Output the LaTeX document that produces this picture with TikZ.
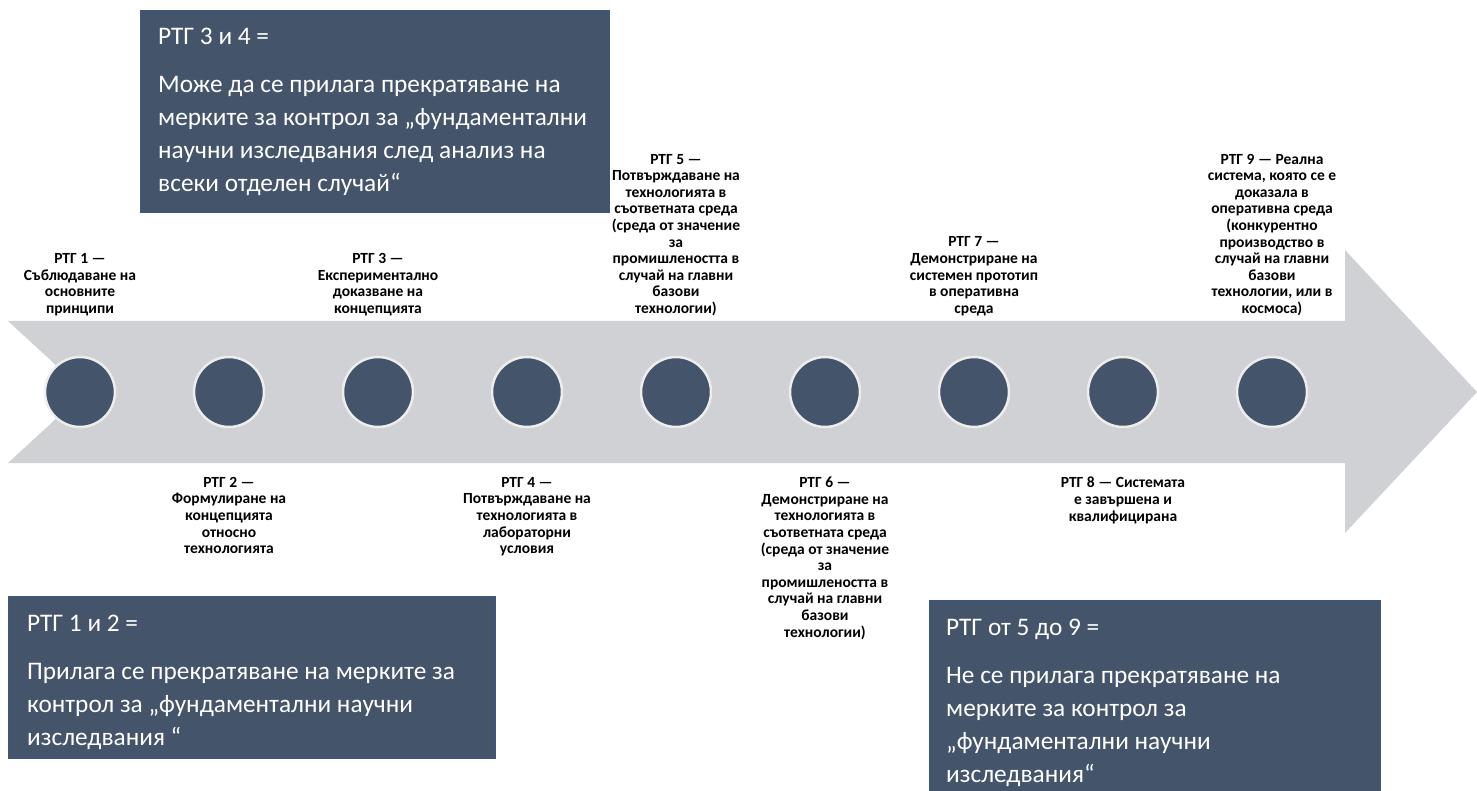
\documentclass[tikz,border=0pt]{standalone}
\usepackage{fontspec}
\setmainfont{Carlito}
\definecolor{slate}{HTML}{44546A}
\definecolor{slateedge}{HTML}{3E5781}
\definecolor{arrowgray}{HTML}{D0D1D4}
\tikzset{
  darkbox/.style={fill=slate, draw=slateedge, line width=0.8pt},
  boxtext/.style={text=white, align=left, inner sep=0, font=\fontsize{25.3}{33}\selectfont},
  rtglabel/.style={align=center, inner sep=0, font=\fontsize{15.5}{16.6}\selectfont\bfseries},
  dot/.style={circle, fill=slate, draw=white!93!black, line width=2.5pt, minimum size=70pt, inner sep=0}
}
\begin{document}
\begin{tikzpicture}[x=1pt, y=-1pt]
  \useasboundingbox (0,0) rectangle (1477,791);
  % big arrow
  \fill[arrowgray] (8,321) -- (1345,321) -- (1345,250) -- (1477,392) -- (1345,533) -- (1345,463) -- (8,463) -- (85,392) -- cycle;
  \foreach \i in {1,...,9}
    \node[dot] (c\i) at ({80+149*(\i-1)},392) {};

  % labels above the arrow
  \node[rtglabel, anchor=south] (l1) at (80,316) {РТГ 1 —\\Съблюдаване на\\основните\\принципи};
  \node[rtglabel, anchor=south] (l3) at (378,316) {РТГ 3 —\\Експериментално\\доказване на\\концепцията};
  \node[rtglabel, anchor=south] (l5) at (676,316) {РТГ 5 —\\Потвърждаване на\\технологията в\\съответната среда\\(среда от значение\\за\\промишлеността в\\случай на главни\\базови\\технологии)};
  \node[rtglabel, anchor=south] (l7) at (974,316) {РТГ 7 —\\Демонстриране на\\системен прототип\\в оперативна\\среда};
  \node[rtglabel, anchor=south] (l9) at (1272,316) {РТГ 9 — Реална\\система, която се е\\доказала в\\оперативна среда\\(конкурентно\\производство в\\случай на главни\\базови\\технологии, или в\\космоса)};

  % labels below the arrow
  \node[rtglabel, anchor=north] (l2) at (229,477) {РТГ 2 —\\Формулиране на\\концепцията\\относно\\технологията};
  \node[rtglabel, anchor=north] (l4) at (527,477) {РТГ 4 —\\Потвърждаване на\\технологията в\\лабораторни\\условия};
  \node[rtglabel, anchor=north] (l6) at (825,477) {РТГ 6 —\\Демонстриране на\\технологията в\\съответната среда\\(среда от значение\\за\\промишлеността в\\случай на главни\\базови\\технологии)};
  \node[rtglabel, anchor=north] (l8) at (1123,477) {РТГ 8 — Системата\\е завършена и\\квалифицирана};

  % boxes
  \draw[darkbox] (140,10) rectangle (609,212);
  \node[boxtext, anchor=north west] (t34) at (158,28) {РТГ 3 и 4 =\\[15pt]Може да се прилага прекратяване на\\мерките за контрол за „фундаментални\\научни изследвания след анализ на\\всеки отделен случай“};

  \draw[darkbox] (8,596) rectangle (495,758);
  \node[boxtext, anchor=north west] (t12) at (27,615) {РТГ 1 и 2 =\\[15pt]Прилага се прекратяване на мерките за\\контрол за „фундаментални научни\\изследвания “};

  \draw[darkbox] (929,600) rectangle (1380,791);
  \node[boxtext, anchor=north west] (t59) at (946,619) {РТГ от 5 до 9 =\\[15pt]Не се прилага прекратяване на\\мерките за контрол за\\„фундаментални научни\\изследвания“};
\end{tikzpicture}
\end{document}
